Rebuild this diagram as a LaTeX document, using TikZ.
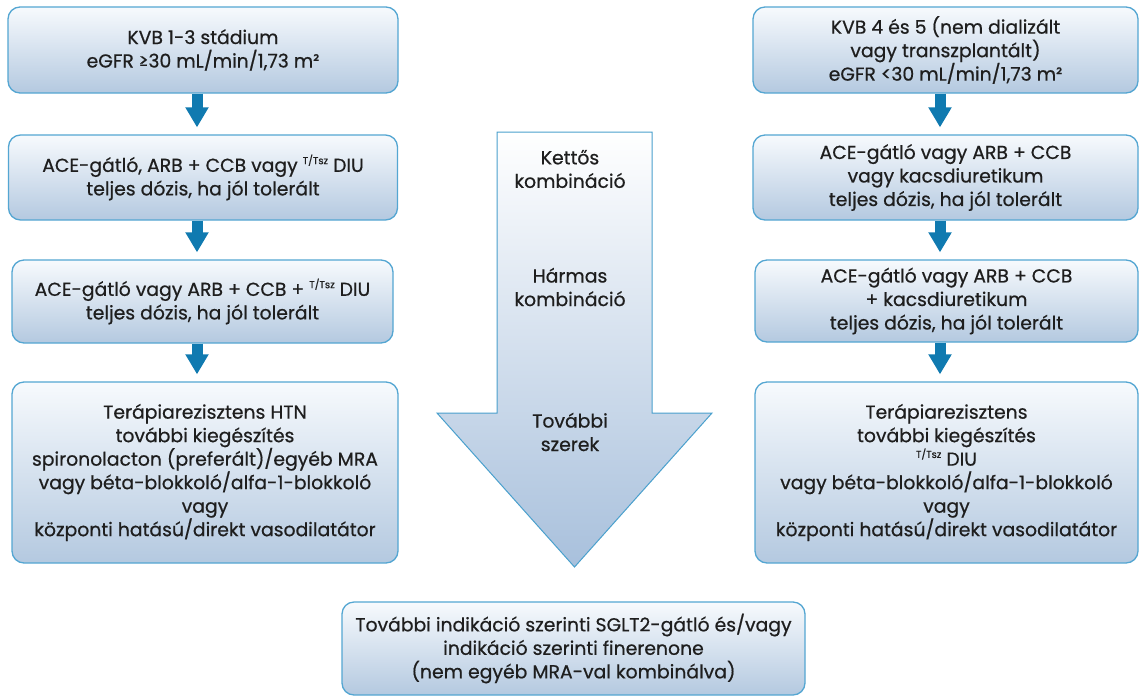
\documentclass[tikz,border=0pt]{standalone}
\usepackage{fontspec}
\setmainfont{Poppins}[FakeBold=0.6]
\usetikzlibrary{arrows.meta}
\definecolor{boxborder}{RGB}{84,166,210}
\definecolor{boxtop}{RGB}{247,250,253}
\definecolor{boxbottom}{RGB}{180,201,224}
\definecolor{arrowblue}{RGB}{16,122,176}
\definecolor{bigbottom}{RGB}{168,192,220}
\definecolor{bigborder}{RGB}{74,160,205}
\definecolor{txt}{RGB}{30,30,30}
\newcommand{\supsz}[1]{\raisebox{0.75ex}{\fontsize{10}{10}\selectfont #1}}
\tikzset{
  box/.style={draw=boxborder, line width=1.3pt, rounded corners=12pt,
    top color=boxtop, bottom color=boxbottom, align=center, inner sep=0pt,
    text=txt, font=\fontsize{18.8}{23.5}\selectfont},
  flowarrow/.style={draw=arrowblue, line width=11pt,
    -{Triangle[width=22pt,length=20pt]}, shorten >=7pt},
  midlabel/.style={align=center, text=txt, inner sep=0pt, font=\fontsize{18.8}{23.5}\selectfont}
}
\begin{document}
\begin{tikzpicture}[x=1pt,y=-1pt]
\useasboundingbox (0,0) rectangle (1140,697);
\fill[white] (0,0) rectangle (1140,697);
% big central arrow
\draw[bigborder, line width=1pt, top color=white, bottom color=bigbottom]
  (497,132) -- (652,132) -- (652,413) -- (712,413) -- (574.5,567) -- (437,413) -- (497,413) -- cycle;
\node[midlabel] (k1) at (570,169) {Kettős\\kombináció};
\node[midlabel] (k2) at (570,287) {Hármas\\kombináció};
\node[midlabel] (k3) at (570,432) {További\\szerek};
% left column
\node[box, minimum width=390pt, minimum height=86pt] (L1) at (203,50)
  {KVB 1-3 stádium\\eGFR ≥30 mL/min/1,73 m²};
\node[box, minimum width=389pt, minimum height=85pt] (L2) at (203,177.5)
  {ACE-gátló, ARB + CCB vagy \supsz{T/Tsz} DIU\\teljes dózis, ha jól tolerált};
\node[box, minimum width=381pt, minimum height=83pt] (L3) at (202.5,301.5)
  {ACE-gátló vagy ARB + CCB + \supsz{T/Tsz} DIU\\teljes dózis, ha jól tolerált};
\node[box, minimum width=386pt, minimum height=181pt] (L4) at (205,472.5)
  {Terápiarezisztens HTN\\további kiegészítés\\spironolacton (preferált)/egyéb MRA\\vagy béta-blokkoló/alfa-1-blokkoló\\vagy\\központi hatású/direkt vasodilatátor};
% right column
\node[box, minimum width=385pt, minimum height=86pt] (R1) at (945.5,50)
  {KVB 4 és 5 (nem dializált\\vagy transzplantált)\\eGFR <30 mL/min/1,73 m²};
\node[box, minimum width=385pt, minimum height=85pt] (R2) at (945.5,177.5)
  {ACE-gátló vagy ARB + CCB\\vagy kacsdiuretikum\\teljes dózis, ha jól tolerált};
\node[box, minimum width=383pt, minimum height=82pt] (R3) at (946.5,301)
  {ACE-gátló vagy ARB + CCB\\+ kacsdiuretikum\\teljes dózis, ha jól tolerált};
\node[box, minimum width=383pt, minimum height=181pt] (R4) at (946.5,472.5)
  {Terápiarezisztens\\további kiegészítés\\\supsz{T/Tsz} DIU\\vagy béta-blokkoló/alfa-1-blokkoló\\vagy\\központi hatású/direkt vasodilatátor};
% bottom
\node[box, minimum width=463pt, minimum height=93pt] (B) at (573.5,648.5)
  {További indikáció szerinti SGLT2-gátló és/vagy\\indikáció szerinti finerenone\\(nem egyéb MRA-val kombinálva)};
% small arrows
\coordinate (la) at (197,0);
\coordinate (ra) at (940,0);
\draw[flowarrow] (L1.south -| la) -- (L2.north -| la);
\draw[flowarrow] (L2.south -| la) -- (L3.north -| la);
\draw[flowarrow] (L3.south -| la) -- (L4.north -| la);
\draw[flowarrow] (R1.south -| ra) -- (R2.north -| ra);
\draw[flowarrow] (R2.south -| ra) -- (R3.north -| ra);
\draw[flowarrow] (R3.south -| ra) -- (R4.north -| ra);
\end{tikzpicture}
\end{document}
